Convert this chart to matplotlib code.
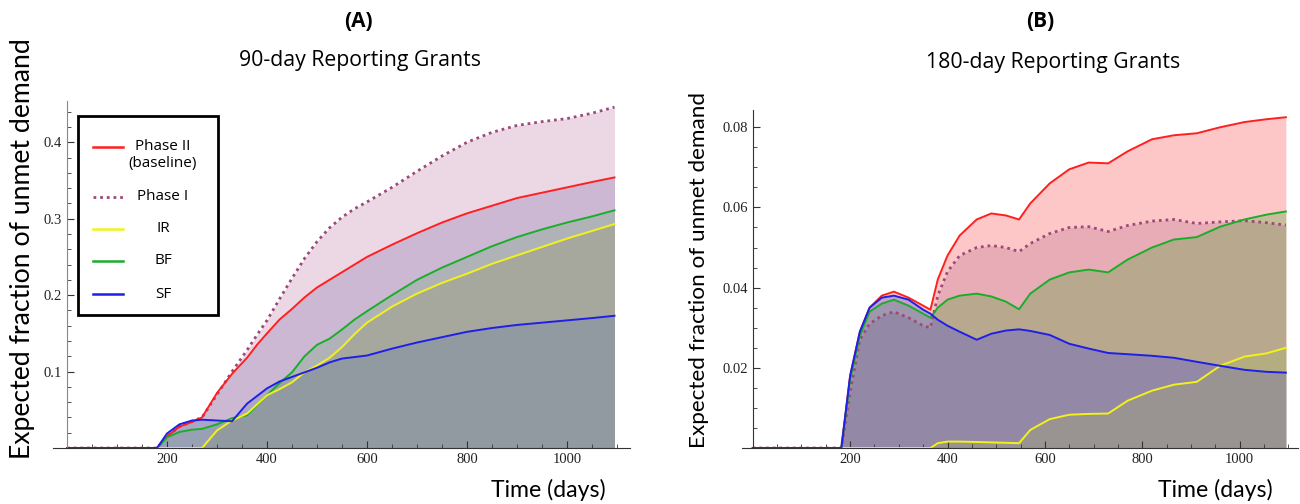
import matplotlib
matplotlib.use('Agg')
import matplotlib.pyplot as plt
from matplotlib.lines import Line2D
from matplotlib.patches import Rectangle
from matplotlib.ticker import MultipleLocator, FixedLocator

# ---- data: panel A (90-day reporting grants) ----
days_a = [0, 180, 200, 225, 250, 270, 300, 330, 360, 380, 400, 425, 450, 475, 500,
          525, 550, 575, 600, 650, 700, 750, 800, 850, 900, 950, 1000, 1050, 1095]
phase1_a = [0, 0, 0.015, 0.028, 0.035, 0.040, 0.070, 0.100, 0.128, 0.148, 0.167, 0.195,
            0.222, 0.248, 0.270, 0.288, 0.302, 0.313, 0.322, 0.341, 0.362, 0.382, 0.400,
            0.413, 0.422, 0.427, 0.431, 0.438, 0.446]
phase2_a = [0, 0, 0.015, 0.028, 0.034, 0.040, 0.072, 0.097, 0.118, 0.135, 0.150, 0.168,
            0.182, 0.197, 0.210, 0.220, 0.230, 0.240, 0.250, 0.266, 0.281, 0.295, 0.307,
            0.317, 0.327, 0.334, 0.341, 0.348, 0.354]
ir_a = [0, 0, 0, 0, 0, 0, 0.023, 0.036, 0.045, 0.057, 0.069, 0.077, 0.086, 0.099, 0.108,
        0.118, 0.132, 0.149, 0.164, 0.185, 0.202, 0.216, 0.228, 0.241, 0.252, 0.263,
        0.274, 0.284, 0.293]
bf_a = [0, 0, 0.014, 0.021, 0.024, 0.025, 0.031, 0.039, 0.043, 0.056, 0.069, 0.085, 0.099,
        0.120, 0.135, 0.143, 0.155, 0.168, 0.179, 0.200, 0.220, 0.236, 0.250, 0.264,
        0.276, 0.286, 0.295, 0.303, 0.311]
sf_a = [0, 0, 0.019, 0.031, 0.036, 0.037, 0.036, 0.035, 0.058, 0.068, 0.078, 0.087, 0.093,
        0.099, 0.105, 0.112, 0.117, 0.119, 0.121, 0.130, 0.138, 0.145, 0.152, 0.157,
        0.161, 0.164, 0.167, 0.170, 0.173]

# ---- data: panel B (180-day reporting grants) ----
days_b = [0, 182, 200, 220, 240, 265, 290, 320, 350, 365, 380, 400, 425, 460, 490, 520,
          547, 570, 610, 650, 690, 730, 770, 820, 865, 912, 960, 1010, 1055, 1095]
phase2_b = [0, 0, 0.018, 0.029, 0.035, 0.038, 0.039, 0.0375, 0.0355, 0.0345, 0.042, 0.048,
            0.053, 0.057, 0.0585, 0.058, 0.057, 0.061, 0.066, 0.0695, 0.0712, 0.071, 0.074,
            0.077, 0.078, 0.0785, 0.080, 0.0813, 0.082, 0.0825]
phase1_b = [0, 0, 0.014, 0.027, 0.031, 0.033, 0.034, 0.0325, 0.0305, 0.030, 0.038, 0.044,
            0.048, 0.050, 0.0505, 0.050, 0.049, 0.051, 0.0535, 0.055, 0.0552, 0.054, 0.0555,
            0.0566, 0.057, 0.056, 0.0564, 0.0567, 0.0562, 0.0556]
bf_b = [0, 0, 0.017, 0.028, 0.034, 0.036, 0.037, 0.0355, 0.0335, 0.0325, 0.035, 0.037,
        0.038, 0.0385, 0.0378, 0.0365, 0.0346, 0.0385, 0.042, 0.0438, 0.0445, 0.0438,
        0.047, 0.050, 0.052, 0.0526, 0.0552, 0.057, 0.0582, 0.059]
sf_b = [0, 0, 0.018, 0.029, 0.035, 0.0375, 0.038, 0.037, 0.0345, 0.0335, 0.032, 0.0305,
        0.029, 0.027, 0.0285, 0.0293, 0.0296, 0.0292, 0.0282, 0.026, 0.0248, 0.0237,
        0.0234, 0.023, 0.0225, 0.0215, 0.0205, 0.0195, 0.019, 0.0188]
ir_b = [0, 0, 0, 0, 0, 0, 0, 0, 0, 0, 0.0012, 0.0016, 0.0016, 0.0015, 0.0014, 0.0013,
        0.0012, 0.0045, 0.0072, 0.0083, 0.0085, 0.0086, 0.0118, 0.0143, 0.0158, 0.0165,
        0.0205, 0.0228, 0.0236, 0.025]

RED = '#ff1f1f'
PURP = '#9c4a7a'
YEL = '#f2f21a'
GRN = '#1aad2a'
BLU = '#1f1fe6'

TICKFONT = 'Liberation Serif'
SANS = 'Lato'

fig = plt.figure(figsize=(13, 5.04), dpi=100)
ax1 = fig.add_axes([0.0408, 0.1111, 0.4438, 0.6885])
ax2 = fig.add_axes([0.5708, 0.1111, 0.4277, 0.6706])


def style_axes(ax, xlim, ylim, ymaj, ymin, yfmt, spine_col):
    ax.set_xlim(*xlim)
    ax.set_ylim(*ylim)
    for s in ['top', 'right']:
        ax.spines[s].set_visible(False)
    ax.spines['left'].set_position(('data', 0))
    ax.spines['bottom'].set_position(('data', 0))
    ax.spines['left'].set_color(spine_col)
    ax.spines['bottom'].set_color('#333333')
    ax.xaxis.set_major_locator(FixedLocator([200, 400, 600, 800, 1000]))
    ax.xaxis.set_minor_locator(FixedLocator([d for d in range(50, 1101, 50) if d % 200]))
    yt = [v * ymaj for v in range(1, 10) if v * ymaj < ylim[1]]
    ax.yaxis.set_major_locator(FixedLocator(yt))
    ax.yaxis.set_minor_locator(MultipleLocator(ymin))
    ax.set_yticklabels([yfmt.format(v) for v in yt])
    ax.tick_params(which='both', direction='in', colors='#333333', labelcolor='#222222')
    ax.tick_params(which='major', length=5, width=0.8, labelsize=10.5)
    ax.tick_params(which='minor', length=3, width=0.6)
    for lab in ax.get_xticklabels() + ax.get_yticklabels():
        lab.set_fontfamily(TICKFONT)
    ax.patch.set_alpha(0)


# panel A fills, layered with transparency
fills_a = [(phase1_a, (180 / 255, 100 / 255, 150 / 255)),
           (phase2_a, (112 / 255, 89 / 255, 164 / 255)),
           (bf_a, (89 / 255, 165 / 255, 100 / 255)),
           (ir_a, (140 / 255, 136 / 255, 84 / 255)),
           (sf_a, (83 / 255, 109 / 255, 171 / 255))]
for ys, c in fills_a:
    ax1.fill_between(days_a, 0, ys, color=c, alpha=0.25, lw=0)
ax1.plot(days_a, phase1_a, color=PURP, lw=2, ls=(0, (1, 1.4)))
ax1.plot(days_a, phase2_a, color=RED, lw=1.4)
ax1.plot(days_a, bf_a, color=GRN, lw=1.4)
ax1.plot(days_a, ir_a, color=YEL, lw=1.4)
ax1.plot(days_a, sf_a, color=BLU, lw=1.4)
style_axes(ax1, (-28, 1126), (0, 0.454), 0.1, 0.02, '{:.1f}', '#888888')

# panel B fills
fills_b = [(phase2_b, (251 / 255, 35 / 255, 35 / 255)),
           (phase1_b, (166 / 255, 92 / 255, 132 / 255)),
           (bf_b, (44 / 255, 161 / 255, 23 / 255)),
           (sf_b, (37 / 255, 38 / 255, 235 / 255)),
           (ir_b, (172 / 255, 185 / 255, 86 / 255))]
for ys, c in fills_b:
    ax2.fill_between(days_b, 0, ys, color=c, alpha=0.25, lw=0)
ax2.plot(days_b, phase1_b, color=PURP, lw=2, ls=(0, (1, 1.4)))
ax2.plot(days_b, phase2_b, color=RED, lw=1.4)
ax2.plot(days_b, bf_b, color=GRN, lw=1.4)
ax2.plot(days_b, ir_b, color=YEL, lw=1.4)
ax2.plot(days_b, sf_b, color=BLU, lw=1.4)
style_axes(ax2, (-22, 1120), (0, 0.0843), 0.02, 0.005, '{:.2f}', '#333333')

# labels and titles
fig.text(0.2755, 0.958, '(A)', ha='center', va='center', fontsize=15, fontweight='bold',
         family='Open Sans')
fig.text(0.277, 0.88, '90-day Reporting Grants', ha='center', va='center', fontsize=15.3,
         family='Open Sans')
fig.text(0.8, 0.958, '(B)', ha='center', va='center', fontsize=15, fontweight='bold',
         family='Open Sans')
fig.text(0.81, 0.876, '180-day Reporting Grants', ha='center', va='center', fontsize=15.3,
         family='Open Sans')
fig.text(0.017, 0.506, 'Expected fraction of unmet demand', rotation=90, ha='center',
         va='center', fontsize=19.2, family=SANS)
fig.text(0.538, 0.464, 'Expected fraction of unmet demand', rotation=90, ha='center',
         va='center', fontsize=16.2, family=SANS)
fig.text(0.466, 0.028, 'Time (days)', ha='right', va='center', fontsize=16.6, family=SANS)
fig.text(0.979, 0.028, 'Time (days)', ha='right', va='center', fontsize=16.6, family=SANS)

# legend box (panel A)
W, H = 1300.0, 504.0
fig.patches.append(Rectangle((78 / W, 1 - 315 / H), 140 / W, 199 / H, transform=fig.transFigure,
                             fill=True, facecolor='white', edgecolor='black', lw=2, zorder=5))
leg = [('Phase II\n(baseline)', RED, '-', 147),
       ('Phase I', PURP, (0, (1, 1.4)), 197),
       ('IR', YEL, '-', 229),
       ('BF', GRN, '-', 261),
       ('SF', BLU, '-', 294)]
for lab, c, ls, ypx in leg:
    fig.lines.append(Line2D([93 / W, 123 / W], [1 - ypx / H] * 2, transform=fig.transFigure,
                            color=c, lw=2 if ls != '-' else 1.8, ls=ls, zorder=6))
    ty = ypx + (8 if '\n' in lab else 0)
    fig.text(163 / W, 1 - ty / H, lab, ha='center', va='center', fontsize=11,
             family='Open Sans', zorder=7, linespacing=1.25)

fig.savefig('out.png', dpi=100)
